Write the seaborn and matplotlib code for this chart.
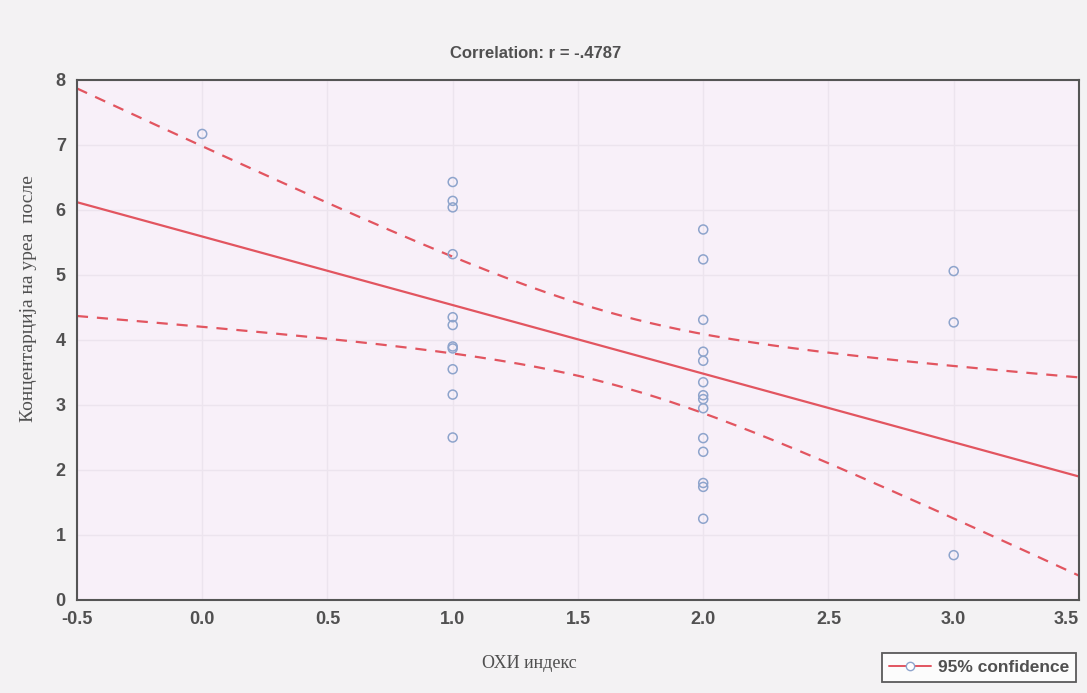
import numpy as np
import pandas as pd
import seaborn as sns
import matplotlib.pyplot as plt
from matplotlib.lines import Line2D

# values
x_vals = [0,
          1, 1, 1, 1, 1, 1, 1, 1, 1, 1, 1,
          2, 2, 2, 2, 2, 2, 2, 2, 2, 2, 2, 2, 2, 2,
          3, 3, 3]
y_vals = [7.17,
          6.43, 6.14, 6.04, 5.32, 4.35, 4.23, 3.90, 3.87, 3.55, 3.16, 2.50,
          5.70, 5.24, 4.31, 3.82, 3.68, 3.35, 3.15, 3.09, 2.95, 2.49, 2.28, 1.80, 1.74, 1.25,
          5.06, 4.27, 0.69]
x_ticks = [-0.5, 0.0, 0.5, 1.0, 1.5, 2.0, 2.5, 3.0, 3.5]
y_ticks = [0, 1, 2, 3, 4, 5, 6, 7, 8]

df = pd.DataFrame({'x': x_vals, 'y': y_vals})

sns.set_style('white')
plt.rcParams['font.family'] = ['Liberation Sans Narrow', 'Liberation Sans', 'DejaVu Sans']

red = '#e25560'
blue = '#8ea4cc'
txt = '#505050'
serif = ['Liberation Serif', 'DejaVu Serif']

fig = plt.figure(figsize=(10.87, 6.93), dpi=100, facecolor='#f3f2f3')
ax = fig.add_axes([0.0708, 0.1342, 0.9218, 0.7504])
ax.set_facecolor('#f8f0f9')

# regression line + analytic 95% confidence band
xs = np.linspace(-0.5, 3.5, 200)
x = np.asarray(x_vals, float)
y = np.asarray(y_vals, float)
n = len(x)
b, a = np.polyfit(x, y, 1)
resid = y - (a + b * x)
s = np.sqrt(np.sum(resid ** 2) / (n - 2))
sxx = np.sum((x - x.mean()) ** 2)
tval = 2.052  # t(0.975, 27)
se = s * np.sqrt(1 / n + (xs - x.mean()) ** 2 / sxx)
fit = a + b * xs

sns.lineplot(x=xs, y=fit, ax=ax, color=red, lw=1.6)
sns.lineplot(x=xs, y=fit + tval * se, ax=ax, color=red, lw=1.6, linestyle=(0, (5, 4)))
sns.lineplot(x=xs, y=fit - tval * se, ax=ax, color=red, lw=1.6, linestyle=(0, (5, 4)))

sns.scatterplot(data=df, x='x', y='y', ax=ax, marker='o', s=42,
                facecolors='none', edgecolor=blue, linewidth=1.1, zorder=5)

ax.set_xlim(-0.5, 3.5)
ax.set_ylim(0, 8)
ax.set_xticks(x_ticks)
ax.set_xticklabels([f'{t:.1f}' for t in x_ticks])
ax.set_yticks(y_ticks)
ax.grid(True, color='#ece4ee', lw=1)
ax.tick_params(direction='in', length=4, color='#555555', labelsize=13,
               labelcolor=txt, pad=8)
for lab in ax.get_xticklabels() + ax.get_yticklabels():
    lab.set_fontweight('bold')
ax.get_xticklabels()[-1].set_horizontalalignment('right')
for sp in ax.spines.values():
    sp.set_color('#555555')
    sp.set_linewidth(1.5)

ax.set_title('Correlation: r = -.4787', fontsize=12, color=txt, fontweight='bold',
             x=0.458, pad=16)
ax.set_xlabel('ОХИ индекс', fontsize=13, color=txt, family=serif)
ax.xaxis.set_label_coords(0.452, -0.105)
ax.set_ylabel('Концентарција на уреа  после', fontsize=14, color=txt, family=serif)
ax.yaxis.set_label_coords(-0.04, 0.58)

handle = Line2D([], [], color=red, lw=1.4, marker='o', markersize=6,
                markerfacecolor='white', markeredgecolor=blue)
leg = fig.legend([handle], ['95% confidence'], loc='lower right',
                 bbox_to_anchor=(0.998, 0.004), frameon=True, fancybox=False,
                 fontsize=12.5, handlelength=2.4, borderpad=0.4, handletextpad=0.4)
leg.get_frame().set_edgecolor('#333333')
leg.get_frame().set_linewidth(1.3)
for t in leg.get_texts():
    t.set_color(txt)
    t.set_fontweight('bold')

fig.savefig('out.png', dpi=100, facecolor=fig.get_facecolor())
